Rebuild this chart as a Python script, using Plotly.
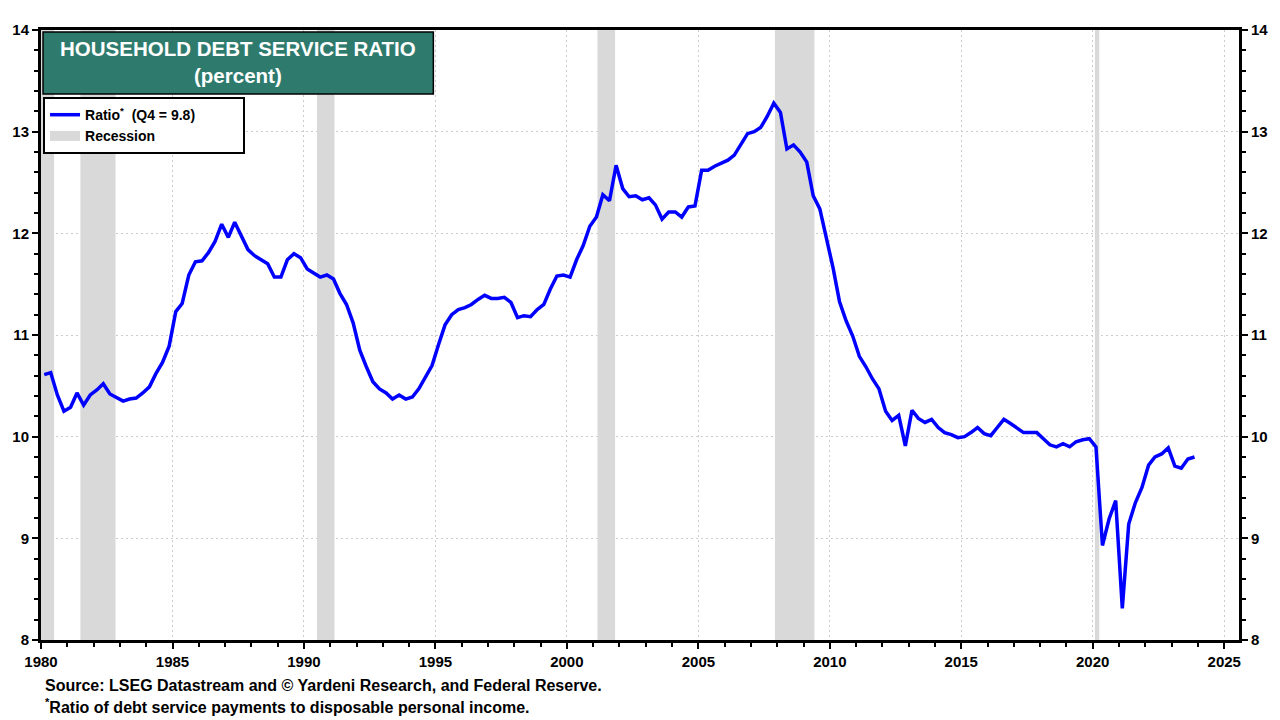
import pandas as pd
import plotly.graph_objects as go

# Quarterly household debt service ratio, 1980Q1 .. 2023Q4
ratio_1980s = [10.61, 10.63, 10.41, 10.25, 10.29, 10.43, 10.31, 10.41, 10.46, 10.52,
               10.42, 10.38, 10.35, 10.37, 10.38, 10.43, 10.49, 10.62, 10.73, 10.89,
               11.23, 11.31, 11.59, 11.72, 11.73, 11.81, 11.92, 12.09, 11.96, 12.11,
               11.98, 11.84, 11.78, 11.74, 11.70, 11.57, 11.57, 11.74, 11.80, 11.76]
ratio_1990s = [11.65, 11.61, 11.57, 11.59, 11.55, 11.41, 11.30, 11.12, 10.85, 10.69,
               10.54, 10.47, 10.43, 10.37, 10.41, 10.37, 10.39, 10.47, 10.59, 10.70,
               10.91, 11.10, 11.20, 11.25, 11.27, 11.30, 11.35, 11.39, 11.36, 11.36,
               11.37, 11.32, 11.17, 11.19, 11.18, 11.25, 11.30, 11.45, 11.58, 11.59]
ratio_2000s = [11.57, 11.74, 11.88, 12.07, 12.16, 12.38, 12.32, 12.67, 12.44, 12.36,
               12.37, 12.33, 12.35, 12.28, 12.14, 12.21, 12.21, 12.16, 12.26, 12.27,
               12.62, 12.62, 12.66, 12.69, 12.72, 12.77, 12.88, 12.98, 13.00, 13.04,
               13.15, 13.28, 13.19, 12.83, 12.87, 12.80, 12.70, 12.37, 12.24, 11.95]
ratio_2010s = [11.66, 11.33, 11.14, 10.99, 10.79, 10.69, 10.57, 10.47, 10.25, 10.16,
               10.21, 9.91, 10.26, 10.18, 10.14, 10.17, 10.09, 10.04, 10.02, 9.99,
               10.00, 10.04, 10.09, 10.03, 10.01, 10.09, 10.17, 10.13, 10.08, 10.04,
               10.04, 10.04, 9.98, 9.92, 9.90, 9.93, 9.90, 9.95, 9.97, 9.98]
ratio_2020s = [9.90, 8.93, 9.19, 9.37, 8.31, 9.14, 9.35, 9.50, 9.72, 9.80,
               9.83, 9.89, 9.71, 9.69, 9.78, 9.80]

ratio = ratio_1980s + ratio_1990s + ratio_2000s + ratio_2010s + ratio_2020s
quarters = pd.date_range("1980-02-15", periods=len(ratio), freq=pd.DateOffset(months=3))

recession_starts = ["1980-01-01", "1981-07-01", "1990-07-01", "2001-03-01", "2007-12-01", "2020-02-01"]
recession_ends = ["1980-07-01", "1982-11-01", "1991-03-01", "2001-11-01", "2009-06-01", "2020-04-01"]

y_min, y_max = 8, 14
y_ticks = [8, 9, 10, 11, 12, 13, 14]
x_start, x_end = "1980-01-01", "2025-07-25"

rx, ry = [], []
for s, e in zip(recession_starts, recession_ends):
    rx += [s, e, e, s, s, None]
    ry += [y_min, y_min, y_max, y_max, y_min, None]

FONT = "Liberation Sans"
BAND = "#d9d9d9"
NB = "\u00a0"
GRID_DASH = "2px,3px"
fig = go.Figure()
fig.add_trace(go.Scatter(x=rx, y=ry, fill="toself", mode="none", fillcolor=BAND,
                         showlegend=False, hoverinfo="skip"))
fig.add_trace(go.Scatter(x=quarters, y=ratio, mode="lines",
                         line=dict(color="#0000ff", width=3.5),
                         name="Ratio<sup>*</sup>" + NB * 2 + "(Q4 = 9.8)" + NB * 11,
                         legendrank=1))
fig.add_trace(go.Scatter(x=[None], y=[None], mode="lines", line=dict(color=BAND, width=14),
                         name="Recession", legendrank=2, hoverinfo="skip"))
fig.add_trace(go.Scatter(x=quarters, y=ratio, yaxis="y2", mode="lines", opacity=0,
                         showlegend=False, hoverinfo="skip"))

axis_font = dict(family=FONT, size=15, color="black", weight="bold")
fig.update_layout(
    width=1280, height=720,
    margin=dict(l=40, r=37, t=30, b=80),
    paper_bgcolor="white", plot_bgcolor="white",
    showlegend=True,
    legend=dict(x=0.0017, y=0.890, xanchor="left", yanchor="top",
                bgcolor="white", bordercolor="black", borderwidth=2,
                font=dict(family=FONT, size=14, color="black", weight="bold"),
                tracegroupgap=0, itemwidth=30),
    xaxis=dict(type="date", range=[x_start, x_end], tick0="1980-01-01", dtick="M60",
               tickformat="%Y", ticks="outside", ticklen=6, tickwidth=1.5, tickcolor="black",
               showline=True, linecolor="black", linewidth=3, mirror=True,
               showgrid=True, gridcolor="#cccccc", griddash=GRID_DASH, gridwidth=1,
               tickfont=axis_font,
               minor=dict(dtick="M12", tick0="1980-01-01", ticks="outside", ticklen=4,
                          tickcolor="black", showgrid=False)),
    yaxis=dict(range=[y_min, y_max], tickvals=y_ticks, ticks="outside", ticklen=6,
               tickwidth=1.5, tickcolor="black",
               showline=True, linecolor="black", linewidth=3,
               showgrid=True, gridcolor="#cccccc", griddash=GRID_DASH, gridwidth=1,
               zeroline=False, tickfont=axis_font,
               minor=dict(dtick=0.2, tick0=8, ticks="outside", ticklen=4, tickcolor="black",
                          showgrid=False)),
    yaxis2=dict(range=[y_min, y_max], tickvals=y_ticks, overlaying="y", side="right",
                ticks="outside", ticklen=6, tickwidth=1.5, tickcolor="black",
                showline=True, linecolor="black", linewidth=3, showgrid=False,
                zeroline=False, tickfont=axis_font,
                minor=dict(dtick=0.2, tick0=8, ticks="outside", ticklen=4, tickcolor="black")),
)

# Title box
fig.add_shape(type="rect", xref="paper", yref="paper", x0=0.0017, x1=0.3275,
              y0=0.895, y1=0.9967, fillcolor="#2e7b6e", line=dict(color="black", width=1.5),
              layer="above")
fig.add_annotation(xref="paper", yref="paper", x=0.1646, y=0.970, xanchor="center",
                   yanchor="middle", showarrow=False,
                   text="HOUSEHOLD DEBT SERVICE RATIO",
                   font=dict(family=FONT, size=20.5, color="white", weight="bold"))
fig.add_annotation(xref="paper", yref="paper", x=0.1646, y=0.9246, xanchor="center",
                   yanchor="middle", showarrow=False,
                   text="(percent)",
                   font=dict(family=FONT, size=20.5, color="white", weight="bold"))

# Footer
fig.add_annotation(xref="paper", yref="paper", x=0.0017, y=-0.0738, xanchor="left",
                   yanchor="middle", showarrow=False,
                   text="Source: LSEG Datastream and © Yardeni Research, and Federal Reserve.",
                   font=dict(family=FONT, size=16, color="black", weight="bold"))
fig.add_annotation(xref="paper", yref="paper", x=0.0017, y=-0.108, xanchor="left",
                   yanchor="middle", showarrow=False,
                   text="<sup>*</sup>Ratio of debt service payments to disposable personal income.",
                   font=dict(family=FONT, size=16, color="black", weight="bold"))

fig.write_html("out.html", config={"displayModeBar": False},
               post_script="document.body.style.margin='0';document.body.style.overflow='hidden';")
